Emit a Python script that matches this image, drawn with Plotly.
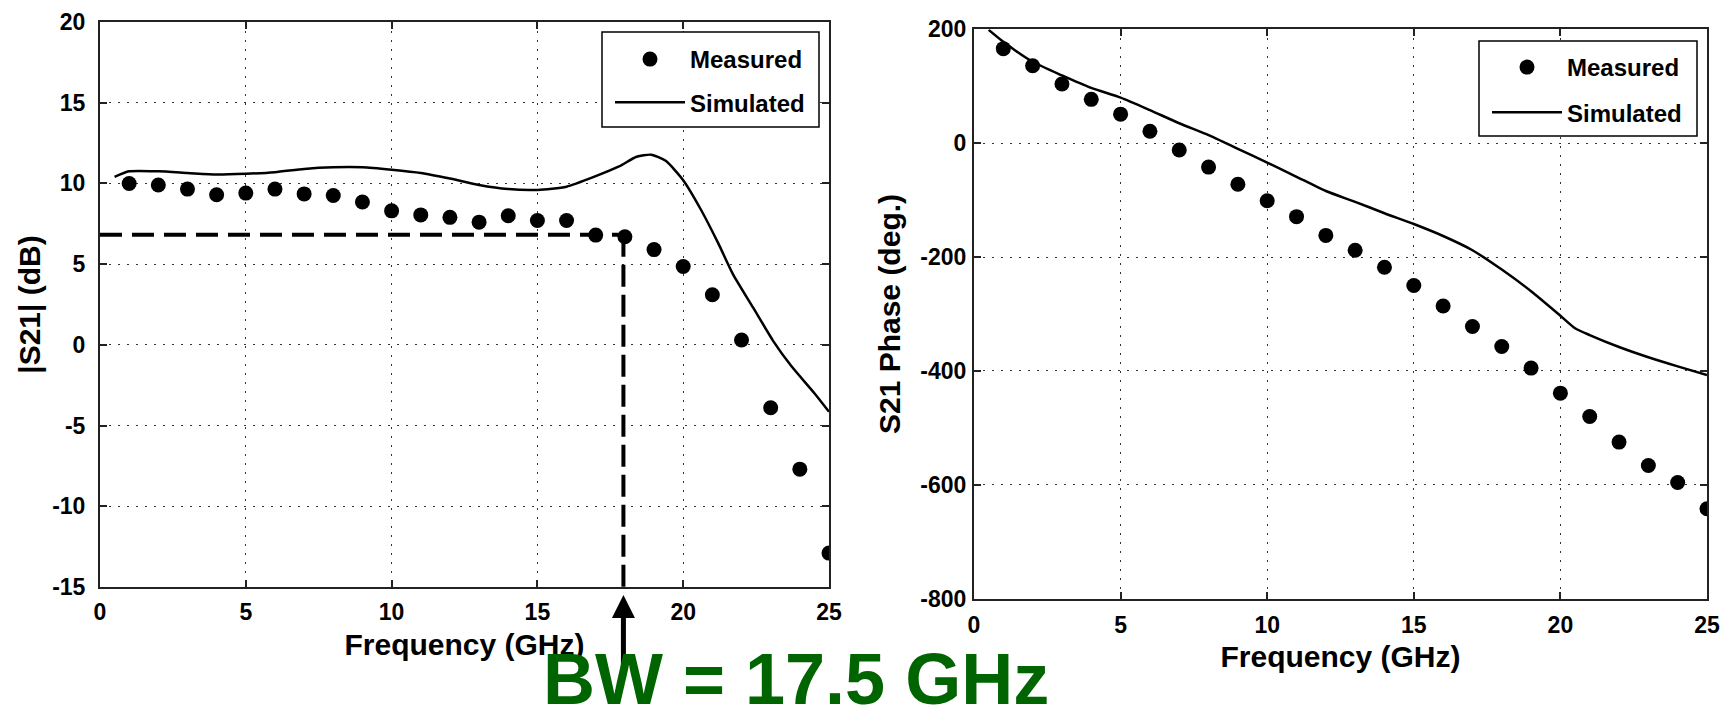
import plotly.graph_objects as go

# ---------------- data ----------------
freq_meas = list(range(1, 26))
s21_mag_meas = [10.0, 9.9, 9.65, 9.3, 9.4, 9.65, 9.35, 9.25, 8.85, 8.3, 8.05, 7.9, 7.6,
                8.0, 7.7, 7.7, 6.8, 6.7, 5.9, 4.85, 3.1, 0.3, -3.9, -7.7, -12.9]
freq_sim_mag = [0.5, 1, 2, 3, 4, 5, 6, 7, 8, 9, 10, 11, 12, 13, 14, 15, 16, 17, 17.8,
                18.4, 18.9, 19.4, 20, 20.6, 21.2, 21.7, 22.4, 23.1, 23.7, 24.5, 25]
s21_mag_sim = [10.4, 10.75, 10.75, 10.65, 10.55, 10.6, 10.7, 10.9, 11.0, 11.0, 10.85, 10.65,
               10.3, 9.9, 9.65, 9.6, 9.8, 10.45, 11.05, 11.65, 11.78, 11.4, 10.2, 8.4, 6.3,
               4.4, 2.3, 0.2, -1.3, -3.0, -4.15]

s21_phase_meas = [166, 136, 104, 77, 51, 21, -12, -42, -72, -101, -129, -162, -188, -218,
                  -250, -286, -322, -357, -395, -439, -480, -525, -566, -596, -642]
freq_sim_phase = [0.5, 1, 2, 3, 4, 5, 6, 7, 8, 9, 10, 11, 12, 13, 14, 15, 16, 17, 18, 19,
                  20, 20.5, 21, 22, 23, 24, 25]
s21_phase_sim = [199, 178, 143, 119, 97, 80, 58, 35, 14, -10, -34, -59, -84, -103, -123,
                 -142, -163, -188, -222, -260, -303, -325, -337, -358, -376, -392, -407]

BW_FREQ = 17.95      # dashed marker position (GHz)
BW_LEVEL = 6.82      # -3 dB level (dB)
BW_LABEL = "BW = 17.5 GHz"

x_ticks = [0, 5, 10, 15, 20, 25]
mag_ticks = [-15, -10, -5, 0, 5, 10, 15, 20]
phase_ticks = [-800, -600, -400, -200, 0, 200]


def labels(vals):
    return [str(v) for v in vals]  # plain hyphen minus, as in the original


# ---------------- styling ----------------
FONT = "Liberation Sans, Arial, sans-serif"
W, H = 1728, 706

fig = go.Figure()

fig.add_trace(go.Scatter(x=freq_meas, y=s21_mag_meas, mode="markers", name="Measured",
                         marker=dict(color="black", size=15), xaxis="x", yaxis="y",
                         legend="legend", legendgroup="m1"))
fig.add_trace(go.Scatter(x=freq_sim_mag, y=s21_mag_sim, mode="lines", name="Simulated",
                         line=dict(color="black", width=2.5, shape="spline", smoothing=0.6),
                         xaxis="x", yaxis="y", legend="legend", legendgroup="s1"))
# -3 dB guide lines
fig.add_trace(go.Scatter(x=[0, BW_FREQ], y=[BW_LEVEL, BW_LEVEL], mode="lines",
                         line=dict(color="black", width=4, dash="22px,10px"),
                         showlegend=False, xaxis="x", yaxis="y", hoverinfo="skip"))
fig.add_trace(go.Scatter(x=[BW_FREQ, BW_FREQ], y=[BW_LEVEL, mag_ticks[0]], mode="lines",
                         line=dict(color="black", width=4, dash="22px,8px"),
                         showlegend=False, xaxis="x", yaxis="y", hoverinfo="skip"))

fig.add_trace(go.Scatter(x=freq_meas, y=s21_phase_meas, mode="markers", name="Measured",
                         marker=dict(color="black", size=15), xaxis="x2", yaxis="y2",
                         legend="legend2", legendgroup="m2"))
fig.add_trace(go.Scatter(x=freq_sim_phase, y=s21_phase_sim, mode="lines", name="Simulated",
                         line=dict(color="black", width=2.5, shape="spline", smoothing=0.6),
                         xaxis="x2", yaxis="y2", legend="legend2", legendgroup="s2"))

axis_common = dict(
    automargin=False,
    showline=True, linecolor="#222", linewidth=2, mirror="allticks",
    ticks="inside", ticklen=7, tickwidth=1.5, tickcolor="#222",
    showgrid=True, gridcolor="#333", gridwidth=1.3, griddash="2px,7px",
    zeroline=False,
    tickfont=dict(family=FONT, size=23, color="black", weight="bold"),
)

title_font = dict(family=FONT, size=30, color="black", weight="bold")

legend_common = dict(
    xanchor="left", yanchor="top",
    bgcolor="rgba(0,0,0,0)", borderwidth=0,
    font=dict(family=FONT, size=24, color="black", weight="bold"),
    itemwidth=70, traceorder="grouped",
)

# legend frames (decoration)
legend_boxes = [(602, 819, 32, 127), (1479, 1697, 41, 136)]
shapes = [dict(type="rect", xref="paper", yref="paper", x0=x0 / W, x1=x1 / W,
               y0=1 - y1 / H, y1=1 - y0 / H, fillcolor="white",
               line=dict(color="black", width=1.5), layer="above")
          for (x0, x1, y0, y1) in legend_boxes]

fig.update_layout(
    width=W, height=H,
    margin=dict(l=0, r=0, t=0, b=0, autoexpand=False),
    paper_bgcolor="white", plot_bgcolor="white",
    showlegend=True,
    xaxis=dict(domain=[100 / W, 829 / W], range=[0, 25], tickvals=x_ticks,
               ticktext=labels(x_ticks),
               title=dict(text="Frequency (GHz)", font=title_font, standoff=10),
               ticklabelstandoff=3, anchor="y", **axis_common),
    yaxis=dict(domain=[1 - 587 / H, 1 - 22 / H], range=[-15, 20], tickvals=mag_ticks,
               ticktext=labels(mag_ticks),
               title=dict(text="|S21| (dB)", font=title_font, standoff=3),
               ticklabelstandoff=8, anchor="x", **axis_common),
    xaxis2=dict(domain=[974 / W, 1707 / W], range=[0, 25], tickvals=x_ticks,
                ticktext=labels(x_ticks),
                title=dict(text="Frequency (GHz)", font=title_font, standoff=9),
                ticklabelstandoff=5, anchor="y2", **axis_common),
    yaxis2=dict(domain=[1 - 598.7 / H, 1 - 29.3 / H], range=[-800, 200], tickvals=phase_ticks,
                ticktext=labels(phase_ticks),
                title=dict(text="S21 Phase (deg.)", font=title_font, standoff=11),
                ticklabelstandoff=1, anchor="x2", **axis_common),
    legend=dict(x=610 / W, y=1 - 37 / H, tracegroupgap=9, **legend_common),
    legend2=dict(x=1487 / W, y=1 - 45 / H, tracegroupgap=11, **legend_common),
    shapes=shapes,
    annotations=[
        dict(x=BW_FREQ, y=mag_ticks[0], xref="x", yref="y", text="", showarrow=True,
             ax=0, ay=83, standoff=8, arrowhead=2, arrowsize=0.92, arrowwidth=5,
             arrowcolor="black"),
        dict(x=796 / W, y=1 - 637 / H, xref="paper", yref="paper", text=BW_LABEL,
             showarrow=False, xanchor="center", yanchor="top",
             font=dict(family=FONT, size=72, color="#006400", weight="bold")),
    ],
)

fig.write_html(
    "out.html",
    config={"displayModeBar": False},
    post_script="document.body.style.margin='0';document.body.style.overflow='hidden';",
)
